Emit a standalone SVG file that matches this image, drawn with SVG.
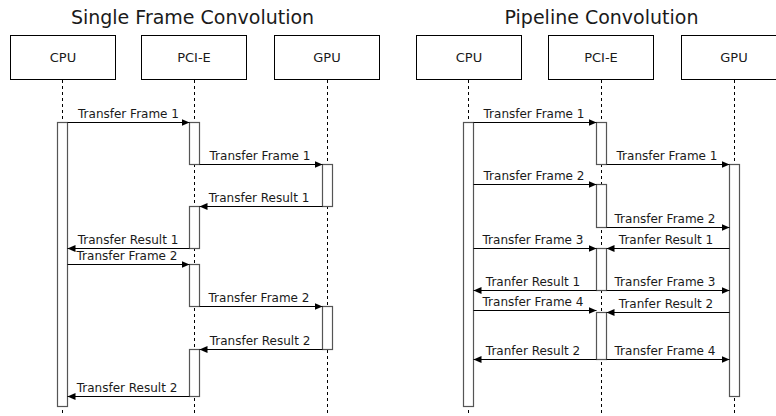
<svg xmlns="http://www.w3.org/2000/svg" width="776" height="416" viewBox="0 0 776 416">
  <style>
    .title { font-family: "DejaVu Sans", Verdana, sans-serif; font-size: 19px; fill: #1a1a1a; text-anchor: middle; }
    .box { fill: #ffffff; stroke: #000000; stroke-width: 1; }
    .name { font-family: "DejaVu Sans", Verdana, sans-serif; font-size: 13px; fill: #1a1a1a; text-anchor: middle; }
    .life { stroke: #000000; stroke-width: 1; stroke-dasharray: 3 3; fill: none; }
    .act { fill: #ffffff; stroke: #555555; stroke-width: 1.2; }
    .msg { stroke: #000000; stroke-width: 1; fill: none; marker-end: url(#head); }
    .lbl { font-family: "DejaVu Sans", Verdana, sans-serif; font-size: 12px; fill: #1a1a1a; text-anchor: middle; }
  </style>
  <defs>
    <marker id="head" markerUnits="userSpaceOnUse" markerWidth="9" markerHeight="8" refX="8" refY="3.5" orient="auto">
      <path d="M0,0 L8,3.5 L0,7 z" fill="#000000"/>
    </marker>
  </defs>
  <rect width="776" height="416" fill="#ffffff"/>

  <!-- Titles -->
  <text class="title" x="192.5" y="24">Single Frame Convolution</text>
  <text class="title" x="601.5" y="24">Pipeline Convolution</text>

  <!-- Single frame: participants -->
  <g id="sf-cpu">
    <rect class="box" x="10.5" y="35.5" width="105" height="44"/>
    <text class="name" x="63" y="62">CPU</text>
    <line class="life" x1="62.5" y1="80" x2="62.5" y2="416"/>
    <rect class="act" x="57.5" y="122.5" width="10" height="284"/>
  </g>
  <g id="sf-pcie">
    <rect class="box" x="141.5" y="35.5" width="105" height="44"/>
    <text class="name" x="194" y="62">PCI-E</text>
    <line class="life" x1="194.5" y1="80" x2="194.5" y2="416"/>
    <rect class="act" x="189.5" y="122.5" width="10" height="42"/>
    <rect class="act" x="189.5" y="206.5" width="10" height="42"/>
    <rect class="act" x="189.5" y="264.5" width="10" height="42"/>
    <rect class="act" x="189.5" y="349.5" width="10" height="47"/>
  </g>
  <g id="sf-gpu">
    <rect class="box" x="274.5" y="35.5" width="105" height="44"/>
    <text class="name" x="327" y="62">GPU</text>
    <line class="life" x1="327.5" y1="80" x2="327.5" y2="416"/>
    <rect class="act" x="322.5" y="164.5" width="10" height="42"/>
    <rect class="act" x="322.5" y="306.5" width="10" height="43"/>
  </g>

  <!-- Pipeline: participants -->
  <g id="pl-cpu">
    <rect class="box" x="416.5" y="35.5" width="105" height="44"/>
    <text class="name" x="469" y="62">CPU</text>
    <line class="life" x1="468.5" y1="80" x2="468.5" y2="416"/>
    <rect class="act" x="463.5" y="122.5" width="10" height="284"/>
  </g>
  <g id="pl-pcie">
    <rect class="box" x="548.5" y="35.5" width="105" height="44"/>
    <text class="name" x="601" y="62">PCI-E</text>
    <line class="life" x1="601.5" y1="80" x2="601.5" y2="416"/>
    <rect class="act" x="596.5" y="122.5" width="10" height="42"/>
    <rect class="act" x="596.5" y="184.5" width="10" height="43"/>
    <rect class="act" x="596.5" y="248.5" width="10" height="42"/>
    <rect class="act" x="596.5" y="312.5" width="10" height="47"/>
  </g>
  <g id="pl-gpu">
    <rect class="box" x="681.5" y="35.5" width="105" height="44"/>
    <text class="name" x="734" y="62">GPU</text>
    <line class="life" x1="734.5" y1="80" x2="734.5" y2="416"/>
    <rect class="act" x="729.5" y="164.5" width="10" height="232"/>
  </g>

  <!-- Messages -->
  <g id="connectors">
    <!-- single frame -->
    <line class="msg" x1="67.5" y1="122.5" x2="189.5" y2="122.5"/>
    <text class="lbl" x="128.5" y="118">Transfer Frame 1</text>
    <line class="msg" x1="199.5" y1="164.5" x2="322.5" y2="164.5"/>
    <text class="lbl" x="260" y="160">Transfer Frame 1</text>
    <line class="msg" x1="322.5" y1="206.5" x2="199.5" y2="206.5"/>
    <text class="lbl" x="259" y="202">Transfer Result 1</text>
    <line class="msg" x1="189.5" y1="248.5" x2="67.5" y2="248.5"/>
    <text class="lbl" x="128" y="244">Transfer Result 1</text>
    <line class="msg" x1="67.5" y1="264.5" x2="189.5" y2="264.5"/>
    <text class="lbl" x="127" y="260">Transfer Frame 2</text>
    <line class="msg" x1="199.5" y1="306.5" x2="322.5" y2="306.5"/>
    <text class="lbl" x="259" y="302">Transfer Frame 2</text>
    <line class="msg" x1="322.5" y1="349.5" x2="199.5" y2="349.5"/>
    <text class="lbl" x="260" y="345">Transfer Result 2</text>
    <line class="msg" x1="189.5" y1="396.5" x2="67.5" y2="396.5"/>
    <text class="lbl" x="127" y="392">Transfer Result 2</text>

    <!-- pipeline -->
    <line class="msg" x1="473.5" y1="122.5" x2="596.5" y2="122.5"/>
    <text class="lbl" x="534" y="118">Transfer Frame 1</text>
    <line class="msg" x1="606.5" y1="164.5" x2="729.5" y2="164.5"/>
    <text class="lbl" x="667" y="160">Transfer Frame 1</text>
    <line class="msg" x1="473.5" y1="184.5" x2="596.5" y2="184.5"/>
    <text class="lbl" x="534" y="180">Transfer Frame 2</text>
    <line class="msg" x1="606.5" y1="227.5" x2="729.5" y2="227.5"/>
    <text class="lbl" x="665" y="223">Transfer Frame 2</text>
    <line class="msg" x1="473.5" y1="248.5" x2="596.5" y2="248.5"/>
    <text class="lbl" x="533" y="244">Transfer Frame 3</text>
    <line class="msg" x1="729.5" y1="248.5" x2="606.5" y2="248.5"/>
    <text class="lbl" x="666" y="244">Tranfer Result 1</text>
    <line class="msg" x1="596.5" y1="290.5" x2="473.5" y2="290.5"/>
    <text class="lbl" x="533" y="286">Tranfer Result 1</text>
    <line class="msg" x1="606.5" y1="290.5" x2="729.5" y2="290.5"/>
    <text class="lbl" x="665" y="286">Transfer Frame 3</text>
    <line class="msg" x1="473.5" y1="310.5" x2="596.5" y2="310.5"/>
    <text class="lbl" x="533" y="306">Transfer Frame 4</text>
    <line class="msg" x1="729.5" y1="312.5" x2="606.5" y2="312.5"/>
    <text class="lbl" x="666" y="308">Tranfer Result 2</text>
    <line class="msg" x1="596.5" y1="359.5" x2="473.5" y2="359.5"/>
    <text class="lbl" x="533" y="355">Tranfer Result 2</text>
    <line class="msg" x1="606.5" y1="359.5" x2="729.5" y2="359.5"/>
    <text class="lbl" x="665" y="355">Transfer Frame 4</text>
  </g>
</svg>
